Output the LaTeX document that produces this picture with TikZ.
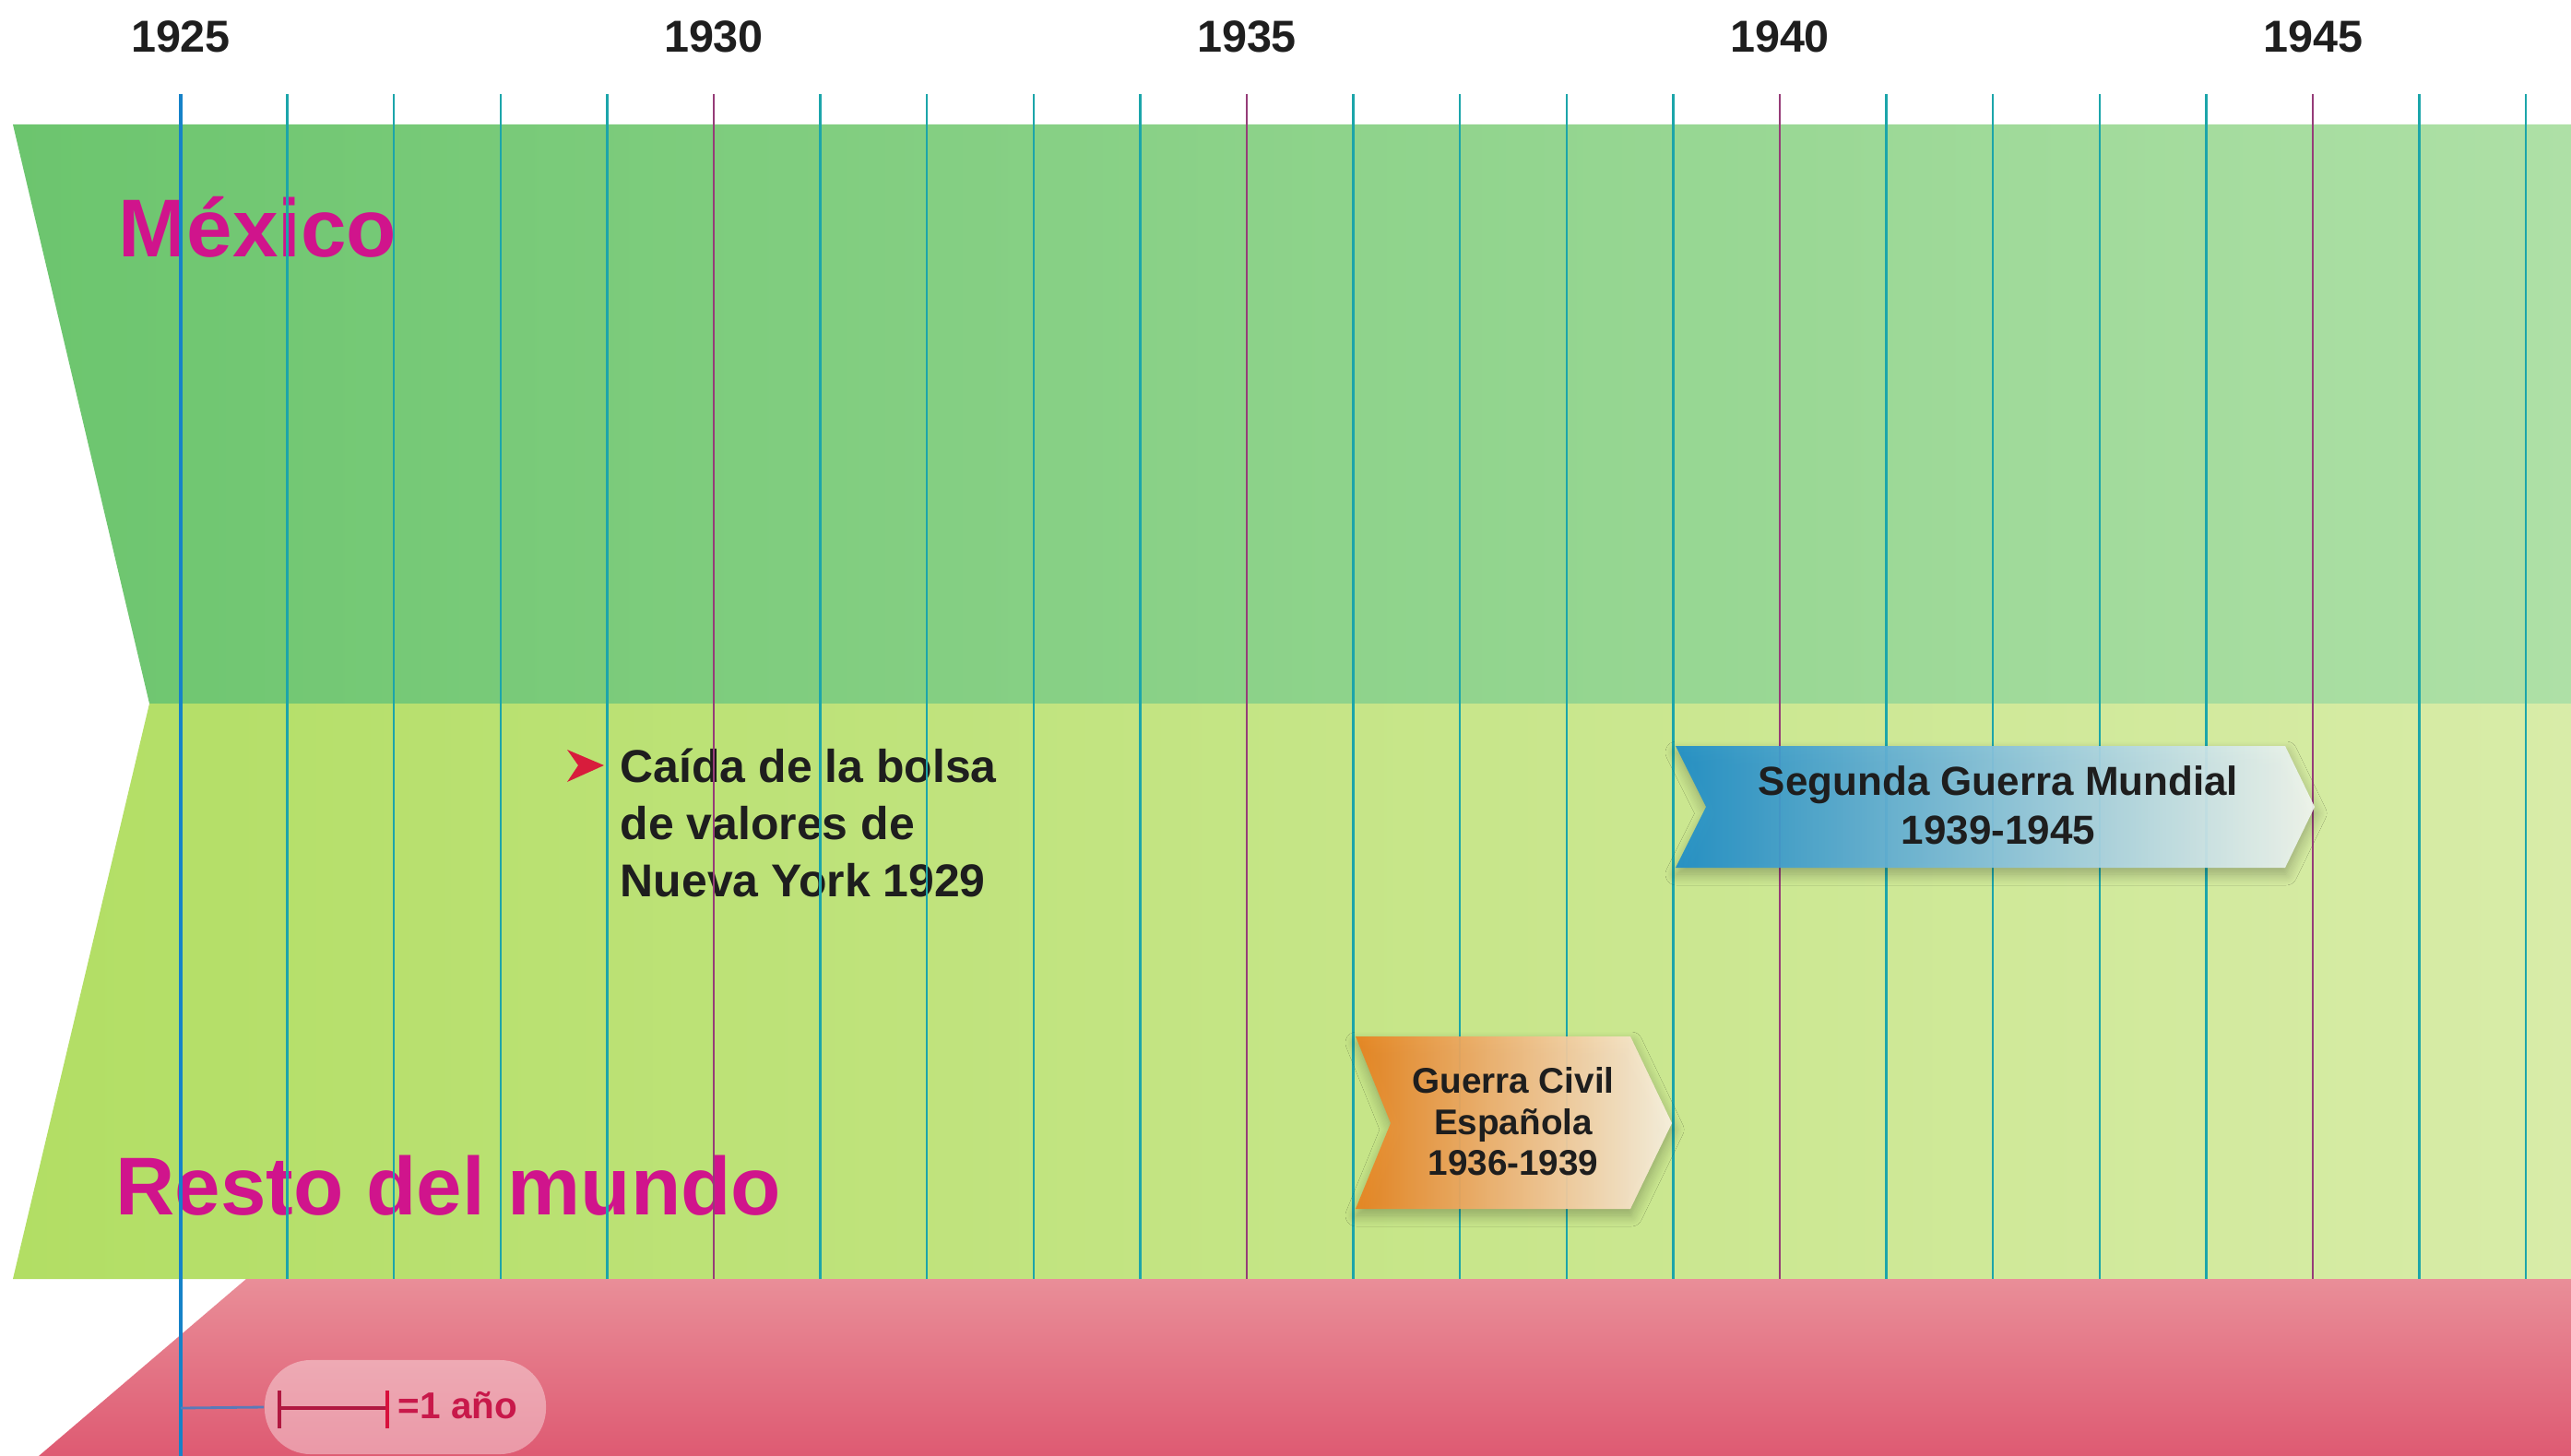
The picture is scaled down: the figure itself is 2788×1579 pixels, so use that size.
\documentclass[tikz,border=0pt]{standalone}
\usepackage{fontspec}
\setmainfont{Liberation Sans}
\usetikzlibrary{shadows.blur}

\definecolor{mxL}{RGB}{108,197,110}
\definecolor{mxR}{RGB}{174,224,166}
\definecolor{rmL}{RGB}{178,222,100}
\definecolor{rmR}{RGB}{216,236,168}
\definecolor{redT}{RGB}{233,142,152}
\definecolor{redB}{RGB}{222,90,114}
\definecolor{magtxt}{RGB}{208,20,140}
\definecolor{tealline}{RGB}{28,165,170}
\definecolor{purpline}{RGB}{150,60,120}
\definecolor{blueline}{RGB}{22,130,200}
\definecolor{wwL}{RGB}{30,142,200}
\definecolor{wwM}{RGB}{128,192,224}
\definecolor{wwR}{RGB}{242,247,240}
\definecolor{gcL}{RGB}{232,130,30}
\definecolor{gcM}{RGB}{240,184,112}
\definecolor{gcR}{RGB}{250,242,226}
\definecolor{txtdark}{RGB}{30,30,30}
\definecolor{arrowred}{RGB}{216,28,60}
\definecolor{scaledark}{RGB}{176,24,64}
\definecolor{scalebright}{RGB}{216,16,60}
\definecolor{scaletxt}{RGB}{200,24,74}
\definecolor{connblue}{RGB}{90,122,184}

\tikzset{
  yrline/.style={line width=0.7pt},
  yearlbl/.style={anchor=base, inner sep=0pt, text=txtdark, font=\fontsize{13.8}{16}\selectfont\bfseries},
  bandlbl/.style={anchor=base west, inner sep=0pt, text=magtxt, font=\fontsize{25.3}{30}\selectfont\bfseries},
  evtxt/.style={inner sep=0pt, text=txtdark, font=\bfseries},
  bannershadow/.style={blur shadow={shadow xshift=0.01cm, shadow yshift=-0.07cm, shadow opacity=28, shadow blur radius=0.12cm, shadow blur steps=10}},
  pill/.style={fill=white, fill opacity=0.38, rounded corners=0.5cm, minimum width=3.05cm, minimum height=1.02cm, inner sep=0pt},
}

\begin{document}
\begin{tikzpicture}[x=0.01cm,y=-0.01cm]
\fill[white] (0,0) rectangle (2788,1579);
\useasboundingbox (0,0) rectangle (2788,1579);

% bands
\path[left color=mxL, right color=mxR] (14,135) -- (2788,135) -- (2788,763) -- (162,763) -- cycle;
\path[left color=rmL, right color=rmR] (162,763) -- (2788,763) -- (2788,1387) -- (14,1387) -- cycle;
\path[top color=redT, bottom color=redB] (267,1387) -- (2788,1387) -- (2788,1579) -- (42,1579) -- cycle;

% band labels
\node[bandlbl] (mexico) at (128,278) {México};
\node[bandlbl] (resto) at (125,1317) {Resto del mundo};

% event text
\fill[arrowred] (615,813) -- (655,830) -- (615,848) -- (627,830) -- cycle;
\node[evtxt, anchor=north west, align=left, font=\fontsize{14.2}{17.6}\selectfont\bfseries] (caida) at (672,811)
  {Caída de la bolsa\\de valores de\\Nueva York 1929};

% year lines
\foreach \k in {1,...,22}{
  \pgfmathtruncatemacro\m{mod(\k,5)}
  \ifnum\m=0 \def\lc{purpline}\else\def\lc{tealline}\fi
  \draw[yrline, draw=\lc] (196+115.6*\k,102) -- (196+115.6*\k,1387);
}
\draw[line width=1.4pt, draw=blueline] (196,102) -- (196,1579);

% year labels
\foreach \y/\k in {1925/0,1930/5,1935/10,1940/15,1945/20}{
  \node[yearlbl] (y\y) at (196+115.6*\k,57) {\y};
}

% banners
\path[bannershadow, left color=wwL, middle color=wwM, right color=wwR, fill opacity=0.93]
  (1817,809) -- (2478,809) -- (2510,875) -- (2478,941) -- (1817,941) -- (1850,875) -- cycle;
\node[evtxt, anchor=north, align=center, font=\fontsize{12.5}{15.1}\selectfont\bfseries] (ww) at (2167,830)
  {Segunda Guerra Mundial\\1939-1945};

\path[bannershadow, left color=gcL, middle color=gcM, right color=gcR, fill opacity=0.93]
  (1470,1124) -- (1768,1124) -- (1813,1218) -- (1768,1311) -- (1470,1311) -- (1508,1218) -- cycle;
\node[evtxt, anchor=north, align=center, font=\fontsize{11}{12.6}\selectfont\bfseries] (gc) at (1641,1157)
  {Guerra Civil\\Española\\1936-1939};

% scale legend
\node[pill] (scale) at (439.5,1526) {};
\coordinate (c1925) at (196,1527);
\draw[connblue, line width=0.8pt] (c1925) -- (scale.west);
\draw[scaledark, line width=1.2pt] (303,1508) -- (303,1549);
\draw[scaledark, line width=1.2pt] (303,1527) -- (420,1527);
\draw[scalebright, line width=1.3pt] (420,1508) -- (420,1549);
\node[anchor=base west, inner sep=0pt, text=scaletxt, font=\fontsize{11.5}{14}\selectfont\bfseries] (unit) at (431,1538) {=1 año};
\end{tikzpicture}
\end{document}
